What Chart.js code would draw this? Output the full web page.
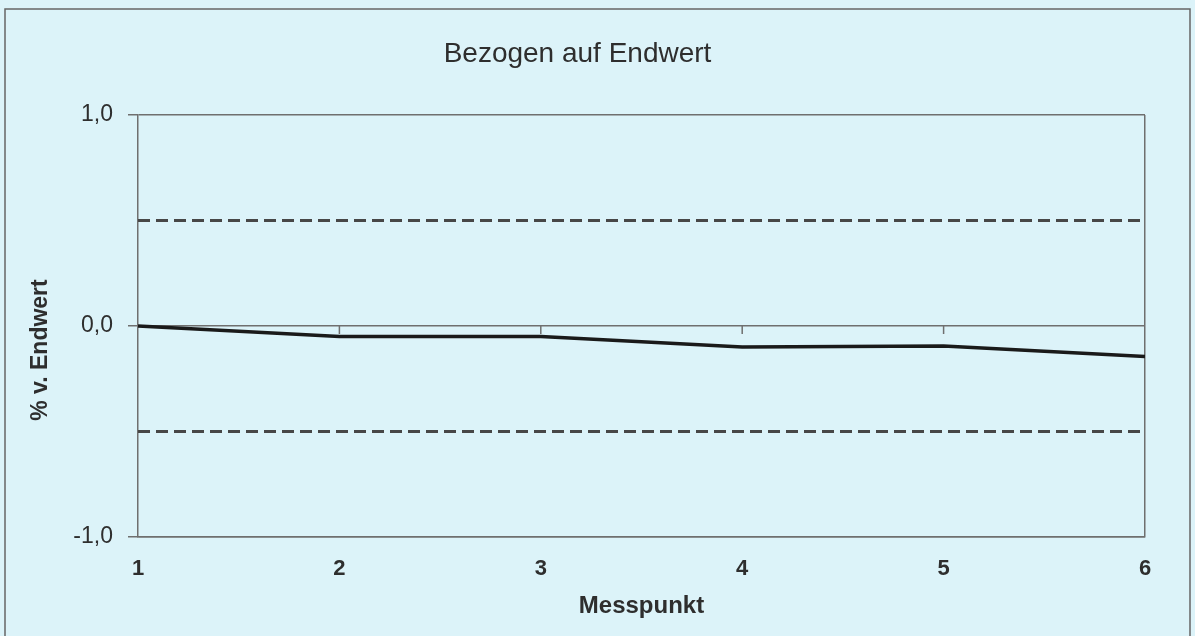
<!DOCTYPE html>
<html>
<head>
<meta charset="utf-8">
<script src="https://cdn.jsdelivr.net/npm/chart.js@4.4.1/dist/chart.umd.min.js"></script>
<style>
  html, body { margin: 0; padding: 0; background: #dcf3f9; }
  canvas { display: block; }
</style>
</head>
<body>
<canvas id="chart" width="1195" height="636"></canvas>
<script>
// values
var messpunkte = [1, 2, 3, 4, 5, 6];
var abweichung = [0, -0.05, -0.05, -0.1, -0.095, -0.145];
var obereGrenze = [0.5, 0.5, 0.5, 0.5, 0.5, 0.5];
var untereGrenze = [-0.5, -0.5, -0.5, -0.5, -0.5, -0.5];
var yTicks = [-1, 0, 1];
var yTitel = "% v. Endwert";

var achsenGrau = "#6f6f6f";
var textFarbe = "#2e2e2e";
var schrift = "Liberation Sans, Arial, sans-serif";

function punkte(werte) {
    return messpunkte.map(function(x, i) { return { x: x, y: werte[i] }; });
}

// background + outer frame like the Excel chart area, y title sits a bit low in the original
var rahmen = {
    id: "rahmen",
    beforeDraw: function(c) {
        var ctx = c.ctx;
        ctx.save();
        ctx.fillStyle = "#dcf3f9";
        ctx.fillRect(0, 0, c.width, c.height);
        ctx.strokeStyle = "#666";
        ctx.lineWidth = 1.5;
        ctx.beginPath();
        ctx.moveTo(5, 645);
        ctx.lineTo(5, 9);
        ctx.lineTo(1190, 9);
        ctx.lineTo(1190, 645);
        ctx.stroke();
        ctx.restore();
    },
    afterDraw: function(c) {
        var ctx = c.ctx, y = c.scales.y;
        ctx.save();
        ctx.translate(y.left + 31, (c.chartArea.top + c.chartArea.bottom) / 2 + 24);
        ctx.rotate(-Math.PI / 2);
        ctx.fillStyle = textFarbe;
        ctx.font = "bold 23px " + schrift;
        ctx.textAlign = "center";
        ctx.textBaseline = "middle";
        ctx.fillText(yTitel, 0, 0);
        ctx.restore();
    }
};

// small tick marks hanging below the zero line
var nullStriche = {
    id: "nullStriche",
    beforeDatasetsDraw: function(c) {
        var ctx = c.ctx, x = c.scales.x, y = c.scales.y;
        var y0 = y.getPixelForValue(0);
        ctx.save();
        ctx.strokeStyle = achsenGrau;
        ctx.lineWidth = 1.5;
        ctx.beginPath();
        messpunkte.slice(1, -1).forEach(function(v) {
            var px = x.getPixelForValue(v);
            ctx.moveTo(px, y0);
            ctx.lineTo(px, y0 + 8);
        });
        ctx.stroke();
        ctx.restore();
    }
};

new Chart(document.getElementById("chart").getContext("2d"), {
    type: "line",
    data: {
        datasets: [{
            label: "obere Grenze",
            data: punkte(obereGrenze),
            borderColor: "#474747",
            borderWidth: 3,
            borderDash: [12, 6],
            pointRadius: 0
        }, {
            label: "untere Grenze",
            data: punkte(untereGrenze),
            borderColor: "#474747",
            borderWidth: 3,
            borderDash: [12, 6],
            pointRadius: 0
        }, {
            label: "Abweichung",
            data: punkte(abweichung),
            borderColor: "#1a1a1a",
            borderWidth: 3.5,
            pointRadius: 0,
            tension: 0
        }]
    },
    options: {
        responsive: false,
        animation: false,
        layout: { padding: { left: 10, right: 50, top: 0, bottom: 16 } },
        plugins: {
            legend: { display: false },
            tooltip: { enabled: false },
            title: {
                display: true,
                text: "Bezogen auf Endwert",
                color: textFarbe,
                font: { family: schrift, size: 28, weight: "normal" },
                padding: { top: 37, bottom: 44.4 }
            }
        },
        scales: {
            x: {
                type: "linear",
                min: 1,
                max: 6,
                afterFit: function(s) { s.height = 83; },
                afterBuildTicks: function(s) {
                    s.ticks = messpunkte.map(function(v) { return { value: v }; });
                },
                ticks: {
                    padding: 19,
                    color: textFarbe,
                    font: { family: schrift, size: 22, weight: "bold" }
                },
                grid: {
                    drawTicks: false,
                    lineWidth: 1.5,
                    color: function(ctx) {
                        return ctx.tick && ctx.tick.value === 6 ? achsenGrau : "rgba(0,0,0,0)";
                    }
                },
                border: { display: true, color: achsenGrau, width: 1.5 },
                title: {
                    display: true,
                    text: "Messpunkt",
                    color: textFarbe,
                    font: { family: schrift, size: 24, weight: "bold" },
                    padding: { top: 0, bottom: -1 }
                }
            },
            y: {
                min: -1,
                max: 1,
                afterFit: function(s) { s.width = 128; },
                afterBuildTicks: function(s) {
                    s.ticks = yTicks.map(function(v) { return { value: v }; });
                },
                ticks: {
                    padding: 15,
                    color: textFarbe,
                    font: { family: schrift, size: 23 },
                    callback: function(v) { return v.toFixed(1).replace(".", ","); }
                },
                grid: {
                    color: achsenGrau,
                    lineWidth: 1.5,
                    tickLength: 10
                },
                border: { display: true, color: achsenGrau, width: 1.5 }
            }
        }
    },
    plugins: [rahmen, nullStriche]
});
</script>
</body>
</html>
